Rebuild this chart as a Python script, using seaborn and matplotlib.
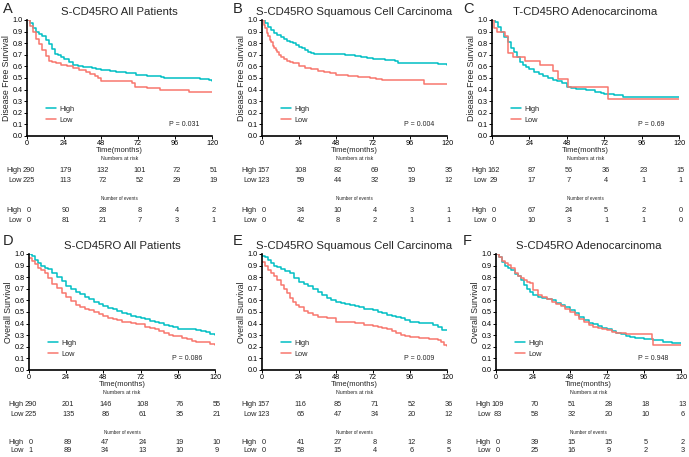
import matplotlib
matplotlib.use("Agg")
import matplotlib.pyplot as plt
import matplotlib.transforms as mtransforms
import seaborn as sns
import numpy as np

sns.set_style("ticks")
plt.rcParams['font.family'] = ['Liberation Sans', 'DejaVu Sans']

HIGH_COLOR = "#00BFC4"
LOW_COLOR = "#F8766D"

# ---------------- data ----------------
titles = ["S-CD45RO All Patients", "S-CD45RO Squamous Cell Carcinoma", "T-CD45RO Adenocarcinoma",
          "S-CD45RO All Patients", "S-CD45RO Squamous Cell Carcinoma", "S-CD45RO Adenocarcinoma"]
letters = ["A", "B", "C", "D", "E", "F"]
ylabels = ["Disease Free Survival"] * 3 + ["Overall Survival"] * 3
pvalues = ["P = 0.031", "P = 0.004", "P = 0.69", "P = 0.086", "P = 0.009", "P = 0.948"]
risk_times = [0, 24, 48, 72, 96, 120]
group_labels = ["High", "Low"]

# Panel A
a_high_t = [0, 2, 4, 6, 8, 10, 12, 14, 16, 18, 20, 22, 24, 27, 30, 33, 36, 42, 45, 48, 54, 58, 64, 71, 78, 87, 89, 102, 112, 118, 120]
a_high_s = [1.0, 0.97, 0.93, 0.90, 0.88, 0.86, 0.83, 0.79, 0.75, 0.71, 0.70, 0.68, 0.66, 0.64, 0.61, 0.60, 0.598, 0.585, 0.575, 0.57, 0.56, 0.555, 0.54, 0.526, 0.52, 0.51, 0.50, 0.50, 0.49, 0.485, 0.477]
a_low_t = [0, 2, 4, 6, 8, 10, 12, 14, 16, 19, 22, 26, 30, 34, 38, 41, 44, 46, 48, 56, 66, 68, 70, 74, 78, 86, 96, 105, 120]
a_low_s = [1.0, 0.95, 0.90, 0.84, 0.79, 0.74, 0.69, 0.65, 0.64, 0.626, 0.615, 0.60, 0.585, 0.57, 0.555, 0.534, 0.515, 0.497, 0.477, 0.475, 0.47, 0.454, 0.425, 0.42, 0.41, 0.397, 0.397, 0.376, 0.376]
a_risk_high = [290, 179, 132, 101, 72, 51]
a_risk_low = [225, 113, 72, 52, 29, 19]
a_ev_high = [0, 90, 28, 8, 4, 2]
a_ev_low = [0, 81, 21, 7, 3, 1]

# Panel B
b_high_t = [0, 2, 4, 6, 8, 10, 12, 14, 16, 18, 20, 22, 24, 26, 28, 30, 32, 34, 48, 54, 60, 64, 68, 72, 80, 86, 88, 108, 114, 118, 120]
b_high_s = [1.0, 0.97, 0.94, 0.91, 0.89, 0.87, 0.855, 0.84, 0.82, 0.81, 0.80, 0.785, 0.77, 0.755, 0.74, 0.727, 0.715, 0.705, 0.705, 0.70, 0.69, 0.68, 0.67, 0.66, 0.655, 0.65, 0.63, 0.63, 0.625, 0.62, 0.61]
b_low_t = [0, 1, 2, 3, 4, 5, 6, 7, 8, 9, 10, 11, 12, 14, 16, 18, 20, 24, 28, 32, 36, 40, 44, 48, 56, 62, 66, 70, 74, 78, 102, 105, 120]
b_low_s = [1.0, 0.96, 0.93, 0.89, 0.86, 0.83, 0.81, 0.78, 0.76, 0.74, 0.72, 0.70, 0.684, 0.66, 0.646, 0.64, 0.63, 0.605, 0.59, 0.575, 0.563, 0.55, 0.54, 0.526, 0.517, 0.511, 0.505, 0.497, 0.489, 0.483, 0.483, 0.448, 0.448]
b_risk_high = [157, 108, 82, 69, 50, 35]
b_risk_low = [123, 59, 44, 32, 19, 12]
b_ev_high = [0, 34, 10, 4, 3, 1]
b_ev_low = [0, 42, 8, 2, 1, 1]

# Panel C
c_high_t = [0, 2, 4, 6, 8, 10, 12, 14, 16, 18, 20, 22, 24, 27, 30, 33, 36, 39, 42, 45, 48, 51, 54, 60, 66, 70, 72, 78, 84, 120]
c_high_s = [1.0, 0.98, 0.94, 0.90, 0.855, 0.81, 0.76, 0.72, 0.68, 0.64, 0.615, 0.595, 0.575, 0.555, 0.535, 0.515, 0.50, 0.48, 0.47, 0.457, 0.42, 0.41, 0.405, 0.395, 0.38, 0.37, 0.36, 0.35, 0.337, 0.337]
c_low_t = [0, 1.5, 3.5, 8.5, 10, 13.5, 21, 31, 39, 42.5, 49, 74.5, 120]
c_low_s = [1.0, 0.931, 0.897, 0.862, 0.714, 0.68, 0.646, 0.609, 0.557, 0.494, 0.423, 0.32, 0.32]
c_risk_high = [162, 87, 56, 36, 23, 15]
c_risk_low = [29, 17, 7, 4, 1, 1]
c_ev_high = [0, 67, 24, 5, 2, 0]
c_ev_low = [0, 10, 3, 1, 1, 0]

# Panel D
d_high_t = [0, 2, 4, 6, 8, 10, 12, 15, 18, 21, 24, 27, 30, 33, 36, 39, 42, 45, 48, 51, 54, 57, 60, 63, 66, 69, 72, 75, 78, 81, 84, 87, 90, 93, 96, 100, 104, 108, 111, 114, 117, 120]
d_high_s = [1.0, 0.98, 0.95, 0.92, 0.895, 0.88, 0.868, 0.84, 0.805, 0.765, 0.72, 0.695, 0.675, 0.655, 0.632, 0.61, 0.59, 0.57, 0.552, 0.537, 0.523, 0.508, 0.494, 0.48, 0.466, 0.458, 0.45, 0.437, 0.425, 0.412, 0.402, 0.39, 0.38, 0.368, 0.356, 0.352, 0.35, 0.345, 0.34, 0.33, 0.31, 0.30]
d_low_t = [0, 2, 4, 6, 8, 10, 12, 15, 18, 21, 24, 27, 30, 33, 36, 39, 42, 45, 48, 51, 54, 57, 60, 63, 66, 69, 72, 75, 78, 81, 84, 87, 90, 93, 96, 99, 102, 105, 108, 114, 117, 120]
d_low_s = [0.965, 0.94, 0.91, 0.876, 0.86, 0.84, 0.79, 0.745, 0.704, 0.665, 0.632, 0.595, 0.56, 0.54, 0.523, 0.513, 0.503, 0.485, 0.466, 0.452, 0.437, 0.427, 0.417, 0.41, 0.402, 0.398, 0.394, 0.375, 0.36, 0.35, 0.34, 0.32, 0.30, 0.296, 0.293, 0.28, 0.264, 0.25, 0.244, 0.244, 0.22, 0.215]
d_risk_high = [290, 201, 146, 108, 76, 55]
d_risk_low = [225, 135, 86, 61, 35, 21]
d_ev_high = [0, 89, 47, 24, 19, 10]
d_ev_low = [1, 89, 34, 13, 10, 9]

# Panel E
e_high_t = [0, 2, 4, 6, 8, 10, 12, 15, 18, 21, 24, 27, 30, 33, 36, 39, 42, 45, 48, 51, 54, 57, 60, 63, 66, 69, 72, 75, 78, 81, 84, 87, 90, 93, 96, 99, 102, 105, 108, 111, 114, 117, 120]
e_high_s = [0.983, 0.97, 0.95, 0.92, 0.90, 0.89, 0.87, 0.855, 0.833, 0.795, 0.76, 0.74, 0.724, 0.70, 0.675, 0.645, 0.618, 0.60, 0.59, 0.58, 0.569, 0.56, 0.552, 0.54, 0.53, 0.523, 0.517, 0.503, 0.49, 0.478, 0.466, 0.455, 0.445, 0.43, 0.417, 0.412, 0.408, 0.405, 0.402, 0.39, 0.374, 0.345, 0.345]
e_low_t = [0, 2, 4, 6, 8, 10, 12, 14, 16, 18, 20, 22, 24, 27, 30, 33, 36, 42, 48, 54, 60, 66, 72, 75, 78, 81, 84, 87, 90, 93, 96, 102, 108, 114, 116, 118, 120]
e_low_s = [0.934, 0.90, 0.86, 0.833, 0.81, 0.78, 0.733, 0.70, 0.66, 0.618, 0.585, 0.56, 0.54, 0.51, 0.488, 0.47, 0.454, 0.445, 0.417, 0.41, 0.402, 0.388, 0.38, 0.37, 0.36, 0.35, 0.34, 0.32, 0.30, 0.293, 0.287, 0.273, 0.264, 0.259, 0.24, 0.215, 0.21]
e_risk_high = [157, 116, 85, 71, 52, 36]
e_risk_low = [123, 65, 47, 34, 20, 12]
e_ev_high = [0, 41, 27, 8, 12, 8]
e_ev_low = [0, 58, 15, 4, 6, 5]

# Panel F
f_high_t = [0, 2, 4, 6, 8, 10, 12, 14, 16, 18, 20, 22, 24, 27, 30, 33, 36, 39, 42, 45, 48, 51, 54, 57, 60, 63, 66, 69, 72, 75, 78, 81, 84, 87, 90, 96, 102, 108, 114, 120]
f_high_s = [1.0, 0.97, 0.93, 0.90, 0.88, 0.86, 0.83, 0.81, 0.78, 0.73, 0.70, 0.675, 0.647, 0.63, 0.618, 0.61, 0.60, 0.58, 0.56, 0.54, 0.52, 0.49, 0.46, 0.43, 0.408, 0.395, 0.38, 0.365, 0.35, 0.335, 0.322, 0.307, 0.293, 0.285, 0.28, 0.264, 0.26, 0.244, 0.23, 0.23]
f_low_t = [0, 2, 4, 6, 8, 10, 12, 14, 16, 18, 20, 22, 24, 27, 30, 33, 36, 39, 42, 45, 48, 51, 54, 57, 60, 63, 66, 69, 72, 75, 78, 84, 96, 101, 102, 120]
f_low_s = [1.0, 0.97, 0.94, 0.92, 0.905, 0.88, 0.84, 0.81, 0.79, 0.776, 0.76, 0.747, 0.69, 0.647, 0.632, 0.61, 0.59, 0.57, 0.552, 0.53, 0.503, 0.47, 0.437, 0.41, 0.388, 0.37, 0.36, 0.352, 0.345, 0.33, 0.316, 0.31, 0.31, 0.264, 0.215, 0.215]
f_risk_high = [109, 70, 51, 28, 18, 13]
f_risk_low = [83, 58, 32, 20, 10, 6]
f_ev_high = [0, 39, 15, 15, 5, 2]
f_ev_low = [0, 25, 16, 9, 2, 3]

curves = [
    ((a_high_t, a_high_s), (a_low_t, a_low_s)),
    ((b_high_t, b_high_s), (b_low_t, b_low_s)),
    ((c_high_t, c_high_s), (c_low_t, c_low_s)),
    ((d_high_t, d_high_s), (d_low_t, d_low_s)),
    ((e_high_t, e_high_s), (e_low_t, e_low_s)),
    ((f_high_t, f_high_s), (f_low_t, f_low_s)),
]
tables = [
    (a_risk_high, a_risk_low, a_ev_high, a_ev_low),
    (b_risk_high, b_risk_low, b_ev_high, b_ev_low),
    (c_risk_high, c_risk_low, c_ev_high, c_ev_low),
    (d_risk_high, d_risk_low, d_ev_high, d_ev_low),
    (e_risk_high, e_risk_low, e_ev_high, e_ev_low),
    (f_risk_high, f_risk_low, f_ev_high, f_ev_low),
]

# ---------------- layout (pixels) ----------------
W, H = 689, 457
boxes = [(27, 212, 20, 136), (262, 447, 20, 136), (492, 679, 20, 136),
         (29, 215, 254, 370), (262, 447, 254, 370), (496, 681, 254, 370)]
letter_pos = [(3, 9), (233, 9), (463, 9), (3, 241), (233, 241), (463, 241)]
rows_top = dict(time=150, nar=158, rh=170, rl=180, noe=198, eh=211, el=221)
rows_bot = dict(time=384, nar=392, rh=404, rl=414, noe=432, eh=442, el=451)

fig = plt.figure(figsize=(W / 100, H / 100), dpi=100)

for i in range(6):
    l, r, t, b = boxes[i]
    ax = fig.add_axes([l / W, (H - b) / H, (r - l) / W, (b - t) / H])
    (ht, hs), (lt, ls) = curves[i]
    sns.lineplot(x=ht, y=hs, ax=ax, color=HIGH_COLOR, drawstyle="steps-post",
                 estimator=None, sort=False, linewidth=1.1)
    sns.lineplot(x=lt, y=ls, ax=ax, color=LOW_COLOR, drawstyle="steps-post",
                 estimator=None, sort=False, linewidth=1.1)
    ax.set_xlim(0, 120)
    ax.set_ylim(0, 1.0)
    ax.set_xticks(risk_times)
    ax.set_yticks(np.round(np.arange(0, 1.01, 0.1), 1))
    ax.set_yticklabels([f"{v:.1f}" for v in np.arange(0, 1.01, 0.1)])
    ax.tick_params(axis="both", direction="out", length=2, width=0.7, pad=1,
                   labelsize=5.2, colors="black")
    for s in ["top", "right"]:
        ax.spines[s].set_visible(False)
    for s in ["left", "bottom"]:
        ax.spines[s].set_linewidth(1.2)
        ax.spines[s].set_color("black")
    ax.set_xlabel("")
    ax.set_ylabel(ylabels[i], fontsize=6.3, labelpad=1.5)
    ax.set_title(titles[i], fontsize=8.2, pad=3.5)

    lines = ax.get_lines()[:2]
    ax.legend(handles=lines, labels=group_labels, loc="center left",
              bbox_to_anchor=(0.1, 0.185), frameon=False, fontsize=5.3,
              handlelength=1.4, handletextpad=0.5, labelspacing=0.5,
              borderpad=0, borderaxespad=0)
    ax.text(0.85, 0.095, pvalues[i], transform=ax.transAxes, fontsize=5,
            ha="center", va="center")

    rows = rows_top if i < 3 else rows_bot
    def ya(px):
        return (b - px) / (b - t)
    trans = mtransforms.blended_transform_factory(ax.transData, ax.transAxes)
    ax.text(60, ya(rows["time"]), "Time(months)", transform=trans, fontsize=5.5,
            ha="center", va="center", clip_on=False)
    ax.text(60, ya(rows["nar"]), "Numbers at risk", transform=trans, fontsize=3.8,
            ha="center", va="center", clip_on=False)
    ax.text(60, ya(rows["noe"]), "Number of events", transform=trans, fontsize=3.3,
            ha="center", va="center", clip_on=False)
    rh, rl, eh, el = tables[i]
    for key, vals, lab in [("rh", rh, "High"), ("rl", rl, "Low"),
                           ("eh", eh, "High"), ("el", el, "Low")]:
        y = ya(rows[key])
        ax.text(-3.6, y, lab, transform=trans, fontsize=5.3, ha="right",
                va="center", clip_on=False)
        for tt, v in zip(risk_times, vals):
            ax.text(tt + 1.2, y, str(v), transform=trans, fontsize=5.3,
                    ha="center", va="center", clip_on=False)

    lx, ly = letter_pos[i]
    fig.text(lx / W, 1 - ly / H, letters[i], fontsize=10.5, ha="left", va="center")

fig.savefig("out.png", dpi=100)
